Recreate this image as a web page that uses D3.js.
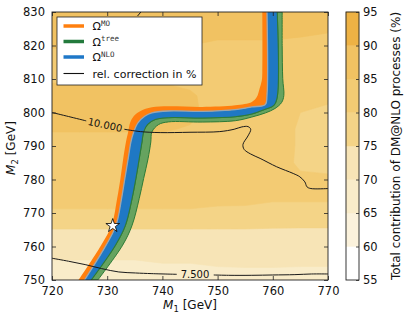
<!DOCTYPE html>
<html><head><meta charset="utf-8">
<script src="https://cdn.jsdelivr.net/npm/d3@7"></script>
<style>body{margin:0;background:#fff}svg{display:block;font-family:"DejaVu Sans",sans-serif}</style>
</head><body><svg id="c" width="407" height="320"></svg>
<script>
// ---------- data ----------
const m1Values = [720,725,730,735,740,745,750,755,760,765,770];
const m2Values = [750,755,760,765,770,775,780,785,790,795,800,805,810,815,820,825,830];
// Total contribution of DM@NLO processes (%), rows follow m2Values (bottom to top)
const contribution = [
  [67,67,67,67.5,67.5,68,68,68.5,68.5,68,68],
  [69.5,69.5,69.5,69.5,70,70,70.5,70.5,70.5,70.5,70.5],
  [72,72,72,72,72.5,72.5,73,73,73,73,73],
  [74.8,74.8,74.8,74.8,74.8,74.8,74.8,74.8,74.6,74.5,74.5],
  [79.5,79.5,79.5,79.5,79.5,79.5,79.3,79.2,79,79,79],
  [81.5,81.5,81.5,81.5,81.5,81.5,81,81,80.5,80.5,80.5],
  [82.5,82.5,82.5,82.5,82.5,82.5,82,81.5,81,80.5,80.5],
  [83,83,83,83,83,83,82.5,82,81.5,79.5,79],
  [83.5,83.5,83.5,83.5,83.5,83.5,83,82.5,82,79.5,79],
  [85.3,85.3,85.3,85.3,85.3,84.7,83.5,83,82,79.5,79],
  [87,87,87,87,87,85.8,83.5,83,82.5,80,79.5],
  [86.5,86.5,86.5,86.5,86.5,85.5,83.5,83,82.5,81,80.5],
  [84.5,84.5,84.5,84.5,84.5,84,83.5,83,82.5,82,81.5],
  [84,84,84,84,84,84,83.5,83.5,83,83,82.5],
  [85.2,85.2,85.2,85,85,85,84.5,84.5,84.5,84,83.5],
  [87,87,87,86.5,86.5,86,86,86,86,86,85.5],
  [88,88,88,88,88,88,88,88.5,89,88.5,88]
];
const levels = [55,60,65,70,75,80,85,90,95];
const levelColors = ["#ffffff","#fbf2dc","#f9ecc9","#f7e4b6","#f4d487","#f3cb73","#f1c262","#eeb244"];

// relic-density bands: edges (M1, M2)
const edgeMOouter = [[724.8,750],[728.9,760.4],[730.8,766.3],[731.8,774.3],[732.4,780.3],[732.9,786.2],[733.4,791.2],[733.8,794.2],[734.2,797.2],[735.1,799.4],[736.6,800.9],[738.1,801.6],[741.1,801.85],[747.2,801.65],[753.2,802.15],[756.2,803.15],[757.1,804.6],[757.6,807.1],[758.0,809.5],[758.1,812],[758.1,830]];
const edgeMOinner = [[725.9,750],[729.8,760.4],[731.6,766.3],[732.6,774.3],[733.2,780.3],[733.8,786.2],[734.3,791.2],[734.8,794.2],[735.6,797.0],[736.8,798.9],[738.1,799.9],[741.1,800.45],[747.2,800.35],[753.2,800.85],[756.2,801.65],[758.65,802.4],[758.95,805.1],[758.95,830]];
const edgeNLOouter = [[727.1,750],[731.5,760.4],[733.3,766.3],[734.5,774.3],[735.2,780.3],[735.8,786.2],[736.3,791.2],[736.6,794.2],[737.3,796.4],[738.7,797.9],[741.1,798.45],[747.2,798.35],[753.2,798.75],[756.2,799.55],[758.5,800.9],[760.2,802.15],[760.8,804.6],[760.8,830]];
const edgeTreeOuter = [[728.3,750],[732.8,760.4],[734.5,766.3],[735.8,774.3],[736.6,780.3],[737.4,786.2],[737.9,791.2],[738.1,794.2],[739.3,796.4],[741.1,797.2],[747.2,797.15],[753.2,797.55],[756.2,798.65],[758.7,799.9],[760.4,801.2],[761.6,803],[762.0,805.1],[761.8,810.1],[761.7,820],[761.7,830]];
const benchmark = [731, 766.2];

// relative correction contours (%)
const corr10a = [[720,800],[723,798.8],[726.2,797.5]];
const corr10b = [[733.1,795.0],[736,794.3],[739.6,794.0],[745,794.1],[750.4,794.3],[753,795.0],[754.4,795.7],[755.5,795.8],[756.0,795.0],[755.5,793.0],[754.6,790.5],[754.8,789.0],[756.0,787.6],[757.7,786.3],[760.7,783.8],[763.7,781.8],[764.9,780.8],[765.8,779.3],[766.2,777.8],[766.9,777.3],[770,777.3]];
const corr10c = [[735.5,828.8],[736.4,830.6]];
const corr75a = [[720,756.5],[723,755.6],[726,754.6],[729,753.4],[732.1,752.4],[735.1,752.1],[738.1,751.9],[742.6,751.7]];
const corr75b = [[749.3,751.5],[752,751.4],[756.2,751.4],[760,751.5],[764,751.6],[767,751.8],[770,751.8]];
const corrLabels = [{text:"10.000", at:[729.6,796.3], angle:12},{text:"7.500", at:[745.9,751.6], angle:0}];

const xTicks = [720,730,740,750,760,770];
const yTicks = [750,760,770,780,790,800,810,820,830];
const cbTicks = [55,60,65,70,75,80,85,90,95];
const legendItems = [
  {sup:"MO", color:"#ff7f0e", w:3.5},
  {sup:"tree", color:"#237a3c", w:3.5},
  {sup:"NLO", color:"#1f78c8", w:3.5},
  {label:"rel. correction in %", color:"#111", w:1.1}
];

// ---------- layout ----------
const svg = d3.select("#c");
const P = {left:52, right:328, top:12, bottom:280};
const x = d3.scaleLinear().domain([720,770]).range([P.left,P.right]);
const y = d3.scaleLinear().domain([750,830]).range([P.bottom,P.top]);

svg.append("defs").append("clipPath").attr("id","clip")
  .append("rect").attr("x",P.left).attr("y",P.top).attr("width",P.right-P.left).attr("height",P.bottom-P.top);
const g = svg.append("g").attr("clip-path","url(#clip)");

// filled contours
const nx = m1Values.length, ny = m2Values.length;
const flat = contribution.flat();
const cont = d3.contours().size([nx,ny]).thresholds(levels.slice(0,-1))(flat);
const d1 = m1Values[1]-m1Values[0], d2 = m2Values[1]-m2Values[0];
const proj = d3.geoTransform({point(px,py){ this.stream.point(x(m1Values[0]+(px-0.5)*d1), y(m2Values[0]+(py-0.5)*d2)); }});
const gp = d3.geoPath(proj);
g.selectAll("path.fc").data(cont).join("path").attr("class","fc")
  .attr("d",gp)
  .attr("fill",d=>levelColors[levels.indexOf(d.value)])
  .attr("stroke",d=>levelColors[levels.indexOf(d.value)]).attr("stroke-width",0.6);

// bands
const lineE = d3.line().x(d=>x(d[0])).y(d=>y(d[1])).curve(d3.curveCatmullRom.alpha(0.5));
function bandPath(a,b){ const p1=lineE(a); const p2=lineE(b.slice().reverse()); return p1+"L"+p2.slice(1)+"Z"; }
g.append("path").attr("d",bandPath(edgeNLOouter,edgeTreeOuter)).attr("fill","#66a35f").attr("stroke","#2e7b37").attr("stroke-width",1);
g.append("path").attr("d",bandPath(edgeMOinner,edgeNLOouter)).attr("fill","#1f78c4");
g.append("path").attr("d",lineE(edgeNLOouter)).attr("fill","none").attr("stroke","#2e7b37").attr("stroke-width",1.1);
g.append("path").attr("d",bandPath(edgeMOouter,edgeMOinner)).attr("fill","#ff7f0e");
g.append("path").attr("d",lineE(edgeMOinner)).attr("fill","none").attr("stroke","#9aa6b0").attr("stroke-width",1.3);

// correction contours
const lineC = d3.line().x(d=>x(d[0])).y(d=>y(d[1])).curve(d3.curveCatmullRom.alpha(0.5));
[corr10a,corr10b,corr10c,corr75a,corr75b].forEach(s=>{
  g.append("path").attr("d",lineC(s)).attr("fill","none").attr("stroke","#1a1a1a").attr("stroke-width",1);
});
corrLabels.forEach(l=>{
  g.append("text").attr("transform",`translate(${x(l.at[0])},${y(l.at[1])}) rotate(${l.angle})`)
   .attr("text-anchor","middle").attr("dy","0.35em").attr("font-size",10).attr("fill","#111").text(l.text);
});

// benchmark star
g.append("path").attr("transform",`translate(${x(benchmark[0])},${y(benchmark[1])})`)
  .attr("d",d3.symbol(d3.symbolStar).size(58)()).attr("fill","#fff").attr("stroke","#000").attr("stroke-width",0.8);

// frame
svg.append("rect").attr("x",P.left).attr("y",P.top).attr("width",P.right-P.left).attr("height",P.bottom-P.top)
  .attr("fill","none").attr("stroke","#222").attr("stroke-width",0.9);

// axes
function styleAxis(sel){ sel.select(".domain").remove(); sel.selectAll("line").attr("stroke","#222").attr("stroke-width",0.8);
  sel.selectAll("text").attr("font-size",11.5).attr("fill","#111").attr("font-family","DejaVu Sans"); }
svg.append("g").attr("transform",`translate(0,${P.bottom})`).call(d3.axisBottom(x).tickValues(xTicks).tickSize(-4).tickPadding(7)).call(styleAxis);
svg.append("g").attr("transform",`translate(0,${P.top})`).call(d3.axisTop(x).tickValues(xTicks).tickSize(-4).tickFormat("")).call(styleAxis);
svg.append("g").attr("transform",`translate(${P.left},0)`).call(d3.axisLeft(y).tickValues(yTicks).tickSize(-4).tickPadding(7)).call(styleAxis);
svg.append("g").attr("transform",`translate(${P.right},0)`).call(d3.axisRight(y).tickValues(yTicks).tickSize(-4).tickFormat("")).call(styleAxis);

// axis labels
const xl = svg.append("text").attr("x",(P.left+P.right)/2).attr("y",309).attr("text-anchor","middle").attr("font-size",12).attr("fill","#111");
xl.append("tspan").attr("font-style","italic").text("M");
xl.append("tspan").attr("font-size",8.5).attr("dy",2.5).text("1");
xl.append("tspan").attr("dy",-2.5).text(" [GeV]");
const yl = svg.append("text").attr("transform",`translate(15,148) rotate(-90)`).attr("text-anchor","middle").attr("font-size",12).attr("fill","#111");
yl.append("tspan").attr("font-style","italic").text("M");
yl.append("tspan").attr("font-size",8.5).attr("dy",2.5).text("2");
yl.append("tspan").attr("dy",-2.5).text(" [GeV]");

// legend
const L = svg.append("g");
L.append("rect").attr("x",57).attr("y",17).attr("width",145).attr("height",68).attr("fill","#fff").attr("stroke","#222").attr("stroke-width",0.8);
const rowY = [26,41.5,57,73.5];
legendItems.forEach((it,i)=>{
  L.append("line").attr("x1",63.5).attr("x2",84).attr("y1",rowY[i]).attr("y2",rowY[i]).attr("stroke",it.color).attr("stroke-width",it.w);
  const t = L.append("text").attr("x",92.5).attr("y",rowY[i]+4).attr("font-size",11).attr("fill","#111");
  if(it.sup){ t.append("tspan").text("Ω"); t.append("tspan").attr("font-family","DejaVu Sans Mono").attr("font-size",7.5).attr("dy",-4.5).attr("fill","#333").text(it.sup); }
  else t.text(it.label);
});

// colorbar
const CB = {x:346, w:13};
const cy = d3.scaleLinear().domain([55,95]).range([P.bottom,P.top]);
const cbg = svg.append("g");
levels.slice(0,-1).forEach((lv,i)=>{
  cbg.append("rect").attr("x",CB.x).attr("width",CB.w).attr("y",cy(levels[i+1])).attr("height",cy(lv)-cy(levels[i+1]))
    .attr("fill",levelColors[i]).attr("stroke",levelColors[i]).attr("stroke-width",0.4);
});
cbg.append("rect").attr("x",CB.x).attr("width",CB.w).attr("y",P.top).attr("height",P.bottom-P.top).attr("fill","none").attr("stroke","#222").attr("stroke-width",0.9);
const cax = svg.append("g").attr("transform",`translate(${CB.x+CB.w},0)`).call(d3.axisRight(cy).tickValues(cbTicks).tickSize(-3).tickPadding(4)).call(styleAxis);
svg.append("text").attr("transform","translate(396,146) rotate(-90)").attr("text-anchor","middle").attr("dy","0.35em")
  .attr("font-size",12).attr("fill","#111").text("Total contribution of DM@NLO processes (%)");
</script></body></html>
